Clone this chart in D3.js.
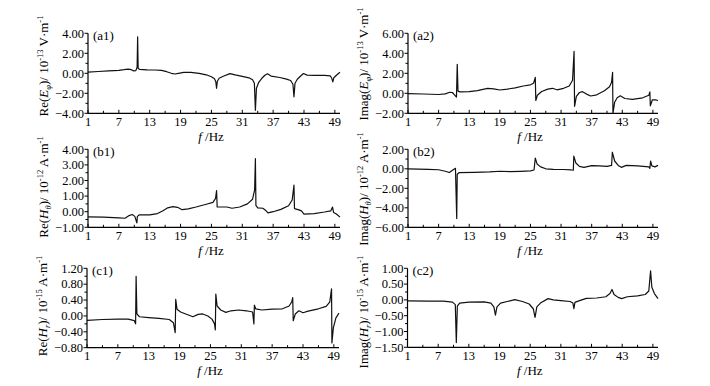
<!DOCTYPE html>
<html><head><meta charset="utf-8">
<script src="https://cdn.jsdelivr.net/npm/d3@7"></script>
<style>body{margin:0;background:#fff}svg{display:block}</style>
</head><body>
<svg id="c" width="710" height="386"></svg>
<script>
// ---- data: [frequency Hz, value] ----
const xTicksMajor = [1,7,13,19,25,31,37,43,49];
const xTicksMinor = [4,10,16,22,28,34,40,46];

const reEphi = [[1,0.12],[3,0.18],[5,0.24],[7,0.3],[8,0.36],[8.8,0.42],[9.4,0.36],[9.9,0.24],[10.3,0.27],[10.55,0.6],[10.65,3.65],[10.75,0.5],[11,0.4],[12.5,0.34],[14,0.33],[15.3,0.3],[16.3,0.16],[17.2,0.0],[17.9,-0.07],[18.6,0.0],[19.6,0.1],[21,0.1],[22.6,0.0],[24,-0.15],[25,-0.35],[25.6,-0.55],[25.85,-0.85],[26.0,-1.5],[26.15,-0.8],[26.5,-0.5],[27.3,-0.3],[28.6,-0.03],[29.6,-0.15],[31,-0.3],[32.3,-0.45],[33.0,-0.65],[33.35,-1.0],[33.55,-3.7],[33.75,-1.5],[34.2,-0.9],[34.8,-0.5],[35.4,-0.2],[35.9,-0.05],[36.6,-0.28],[38.3,-0.42],[39.6,-0.58],[40.4,-0.72],[40.85,-1.1],[41.05,-2.35],[41.25,-1.0],[41.7,-0.6],[42.3,-0.3],[42.9,-0.02],[43.6,-0.18],[45,-0.2],[47,-0.2],[48.1,-0.25],[48.4,-0.5],[48.6,-0.85],[48.8,-0.45],[49.3,-0.2],[49.7,-0.02],[50,0.1]];

const imEphi = [[1,-0.03],[4,-0.07],[7,-0.12],[8.3,-0.06],[9.2,0.1],[9.7,0.08],[10.2,-0.2],[10.5,-0.38],[10.65,2.9],[10.8,0.22],[11.2,0.14],[13,0.16],[14.6,0.27],[15.7,0.4],[16.6,0.5],[17.8,0.45],[19,0.33],[20.5,0.42],[22,0.55],[23.6,0.73],[25,0.85],[25.6,1.0],[25.95,1.6],[26.05,-0.72],[26.35,-0.2],[27.2,0.18],[28.4,0.42],[29.3,0.5],[30.2,0.35],[31.5,0.5],[32.6,0.73],[33.25,1.3],[33.55,4.2],[33.65,-1.3],[34.0,-0.3],[34.6,0.08],[35.2,0.16],[36,-0.08],[36.8,-0.27],[38,-0.15],[39.5,0.25],[40.5,0.65],[40.9,1.1],[41.1,2.1],[41.17,-2.0],[41.5,-0.9],[42,-0.45],[42.6,-0.25],[43.5,-0.52],[45,-0.6],[47,-0.45],[48.2,-0.2],[48.4,0.15],[48.5,-1.25],[48.9,-0.65],[49.5,-0.65],[50,-0.72]];

const reHtheta = [[1,-0.33],[4,-0.35],[7,-0.4],[8.2,-0.42],[9.0,-0.25],[9.6,-0.18],[10.1,-0.3],[10.5,-0.72],[10.6,-0.3],[11,-0.2],[13,-0.2],[14.5,-0.12],[15.5,0.05],[16.5,0.25],[17.5,0.33],[18.4,0.28],[19.3,0.13],[20.5,0.18],[22,0.3],[24,0.48],[25.3,0.6],[25.8,0.85],[26.0,1.35],[26.12,0.3],[27,0.3],[28,0.3],[29,0.22],[30.5,0.3],[32,0.5],[33,0.8],[33.4,1.4],[33.55,3.4],[33.65,0.4],[34,0.25],[35,0.22],[35.5,0.1],[36,-0.08],[37,0.0],[38.5,0.15],[40,0.38],[40.7,0.75],[41.05,1.7],[41.15,0.2],[42,0.12],[42.5,0.05],[43,-0.15],[45,-0.12],[47,-0.02],[48.2,0.05],[48.55,0.3],[48.75,-0.05],[49.3,-0.15],[50,-0.35]];

const imHtheta = [[1,0],[5,-0.05],[7,-0.1],[8.3,-0.25],[9.1,-0.38],[9.8,-0.12],[10.3,0.05],[10.55,-5.1],[10.65,-0.55],[11,-0.4],[14,-0.36],[17,-0.32],[19,-0.25],[21,-0.28],[23,-0.26],[25,-0.22],[25.7,-0.12],[25.95,1.1],[26.3,0.5],[27,0.2],[28,0.0],[29.5,-0.06],[31.5,-0.07],[33,-0.12],[33.4,-0.15],[33.5,1.3],[33.9,0.6],[34.6,0.25],[35.5,0.15],[37,0.33],[38.5,0.3],[40,0.25],[40.9,0.35],[41.05,1.7],[41.5,0.8],[42.2,0.35],[42.8,0.15],[43.8,0.35],[46,0.3],[48.2,0.2],[48.4,0.05],[48.55,0.8],[48.8,0.3],[49.4,0.2],[50,0.35]];

const reHr = [[1,-0.11],[4,-0.09],[7,-0.08],[9,-0.08],[10.2,-0.12],[10.45,-0.2],[10.55,1.0],[10.7,0.05],[11.2,-0.02],[13,-0.04],[15,-0.06],[17,-0.09],[17.8,-0.17],[18.15,-0.42],[18.25,0.42],[18.5,0.17],[19.2,0.1],[20.2,0.05],[21.6,-0.02],[22.6,0.04],[23.5,0.05],[24.5,0.0],[25.3,-0.08],[25.8,-0.2],[25.95,-0.35],[26.05,0.55],[26.3,0.25],[27,0.15],[28,0.09],[29,0.13],[30.5,0.15],[32,0.13],[33.2,0.1],[33.45,-0.2],[33.55,0.27],[33.8,0.18],[35,0.15],[37,0.17],[39,0.18],[40.3,0.25],[40.8,0.35],[41.0,0.46],[41.1,-0.12],[41.5,0.05],[42.2,0.13],[43,0.08],[44,0.12],[46,0.18],[47.5,0.24],[48.2,0.35],[48.55,0.68],[48.62,-0.68],[48.9,-0.3],[49.4,-0.05],[50,0.07]];

const imHr = [[1,-0.03],[5,-0.04],[8,-0.04],[9.8,-0.07],[10.35,-0.15],[10.55,-1.35],[10.75,-0.2],[11.2,-0.1],[13,-0.07],[16,-0.06],[17.3,-0.1],[17.9,-0.22],[18.2,-0.48],[18.5,-0.22],[19.2,-0.1],[20.5,-0.05],[22,0.01],[23.5,-0.05],[24.8,-0.13],[25.6,-0.28],[25.95,-0.55],[26.3,-0.22],[27,-0.1],[28.5,0.04],[29.5,0.0],[31,-0.02],[32.8,-0.05],[33.35,-0.1],[33.55,-0.28],[33.75,-0.08],[34.5,-0.03],[36,0.05],[38,0.06],[39.8,0.1],[40.6,0.2],[41.0,0.33],[41.4,0.17],[42.2,0.08],[42.9,0.04],[44,0.1],[46,0.13],[47.5,0.17],[48.2,0.28],[48.55,0.92],[48.8,0.4],[49.3,0.2],[50,0.04]];

const yTicks_a1 = [-4,-2,0,2,4];
const yTicks_a2 = [-2,0,2,4,6];
const yTicks_b1 = [-1,0,1,2,3,4];
const yTicks_b2 = [-6,-4,-2,0,2];
const yTicks_c1 = [-0.8,-0.4,0,0.4,0.8,1.2];
const yTicks_c2 = [-1.5,-1,-0.5,0,0.5,1];

// ---- layout ----
const panels = [
 {id:"(a1)", data:reEphi, dom:[-4,4], ticks:yTicks_a1, x0:88, x1:340, y0:33.3, y1:113.3, pre:"Re(", sym:"E", sub:"φ", exp:"-13", unit:" V·m", tc:66},
 {id:"(a2)", data:imEphi, dom:[-2,6], ticks:yTicks_a2, x0:408, x1:658, y0:33.3, y1:113.3, pre:"Imag(", sym:"E", sub:"φ", exp:"-13", unit:" V·m", tc:64},
 {id:"(b1)", data:reHtheta, dom:[-1,4], ticks:yTicks_b1, x0:88, x1:340, y0:149.3, y1:227.3, pre:"Re(", sym:"H", sub:"θ", exp:"-12", unit:" A·m", tc:187},
 {id:"(b2)", data:imHtheta, dom:[-6,2], ticks:yTicks_b2, x0:408, x1:658, y0:149.3, y1:227.3, pre:"Imag(", sym:"H", sub:"θ", exp:"-12", unit:" A·m", tc:189},
 {id:"(c1)", data:reHr, dom:[-0.8,1.2], ticks:yTicks_c1, x0:87, x1:339, y0:268.3, y1:347.7, pre:"Re(", sym:"H", sub:"r", exp:"-15", unit:" A·m", tc:306},
 {id:"(c2)", data:imHr, dom:[-1.5,1.0], ticks:yTicks_c2, x0:407.5, x1:658, y0:268.3, y1:347.3, pre:"Imag(", sym:"H", sub:"r", exp:"-15", unit:" A·m", tc:312}
];

const svg = d3.select("#c");
const FONT = "'Liberation Serif','Times New Roman',serif";

panels.forEach(p => {
  const x = d3.scaleLinear().domain([1,50]).range([p.x0,p.x1]);
  const y = d3.scaleLinear().domain(p.dom).range([p.y1,p.y0]);
  const g = svg.append("g").attr("font-family",FONT).attr("fill","#000");

  // x axis
  g.append("line").attr("x1",p.x0).attr("x2",p.x1).attr("y1",p.y1).attr("y2",p.y1).attr("stroke","#000").attr("stroke-width",1.2);
  g.selectAll(".xmaj").data(xTicksMajor).enter().append("line")
    .attr("x1",d=>x(d)).attr("x2",d=>x(d)).attr("y1",p.y1).attr("y2",p.y1-3.5).attr("stroke","#000");
  g.selectAll(".xmin").data(xTicksMinor).enter().append("line")
    .attr("x1",d=>x(d)).attr("x2",d=>x(d)).attr("y1",p.y1).attr("y2",p.y1-2.5).attr("stroke","#000");
  g.selectAll(".xl").data(xTicksMajor).enter().append("text")
    .attr("x",d=>x(d)).attr("y",p.y1+12.5).attr("text-anchor","middle").attr("font-size",12.5).text(d=>d);
  const xt = g.append("text").attr("x",(p.x0+p.x1)/2-3).attr("y",p.y1+27.5).attr("text-anchor","middle").attr("font-size",13);
  xt.append("tspan").attr("font-style","italic").text("f");
  xt.append("tspan").text(" /Hz");

  // y axis
  g.append("line").attr("x1",p.x0).attr("x2",p.x0).attr("y1",p.y0).attr("y2",p.y1).attr("stroke","#000").attr("stroke-width",1.2);
  g.selectAll(".ymaj").data(p.ticks).enter().append("line")
    .attr("x1",p.x0).attr("x2",p.x0-3.5).attr("y1",d=>y(d)).attr("y2",d=>y(d)).attr("stroke","#000");
  const mids = d3.pairs(p.ticks).map(([a,b])=>(a+b)/2);
  g.selectAll(".ymin").data(mids).enter().append("line")
    .attr("x1",p.x0).attr("x2",p.x0-2.5).attr("y1",d=>y(d)).attr("y2",d=>y(d)).attr("stroke","#000");
  g.selectAll(".yl").data(p.ticks).enter().append("text")
    .attr("x",p.x0-4).attr("y",d=>y(d)+4.3).attr("text-anchor","end").attr("font-size",12.5).text(d=>d3.format(".2f")(d));

  // y title
  const tx = p.x0-40;
  const yt = g.append("text").attr("transform",`translate(${tx},${p.tc}) rotate(-90)`).attr("text-anchor","middle").attr("font-size",13);
  yt.append("tspan").text(p.pre);
  yt.append("tspan").attr("font-style","italic").text(p.sym);
  yt.append("tspan").attr("font-style","italic").attr("font-size",8.5).attr("dy",3).text(p.sub);
  yt.append("tspan").attr("dy",-3).text(")/ 10");
  yt.append("tspan").attr("font-size",8.5).attr("dy",-5).text(p.exp);
  yt.append("tspan").attr("dy",5).text(p.unit);
  yt.append("tspan").attr("font-size",8.5).attr("dy",-5).text("-1");

  // panel label
  g.append("text").attr("x",p.x0+5).attr("y",p.y0+7).attr("font-size",13).text(p.id);

  // curve
  const line = d3.line().x(d=>x(d[0])).y(d=>y(d[1]));
  g.append("path").datum(p.data).attr("d",line).attr("fill","none").attr("stroke","#111").attr("stroke-width",1.2).attr("stroke-linejoin","round");
});
</script>
</body></html>
